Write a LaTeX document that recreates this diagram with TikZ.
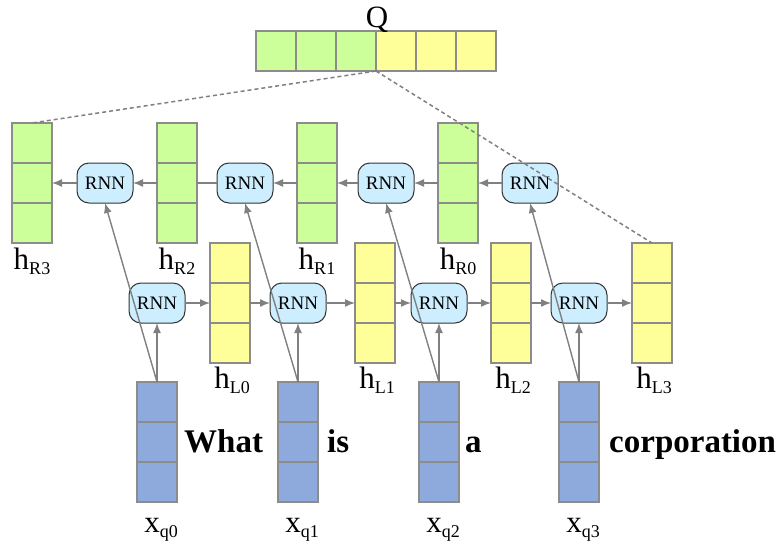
\documentclass[tikz,border=0pt]{standalone}
\usepackage{fontspec}
\setmainfont{Liberation Serif}[BoldFont={Liberation Serif Bold}]
\newfontfamily\wordfont{Liberation Serif Bold}
\usetikzlibrary{arrows.meta}
\definecolor{gfill}{HTML}{CCFF99}
\definecolor{yfill}{HTML}{FFFF99}
\definecolor{bfill}{HTML}{8EAADC}
\definecolor{rfill}{HTML}{CCEEFF}
\definecolor{boxgray}{HTML}{8C8C8C}
\definecolor{conngray}{HTML}{808080}
\newcommand\lbl[2]{{\fontsize{31}{31}\selectfont #1}\raisebox{-5pt}{\fontsize{18}{18}\selectfont #2}}
\tikzset{
  vec/.style={draw=boxgray, line width=1.3pt, minimum width=40pt, minimum height=120pt, inner sep=0pt, outer sep=0pt,
    path picture={\draw[boxgray,line width=1.3pt]
      ([yshift=20pt]path picture bounding box.west) -- ([yshift=20pt]path picture bounding box.east)
      ([yshift=-20pt]path picture bounding box.west) -- ([yshift=-20pt]path picture bounding box.east);}},
  qcell/.style={draw=boxgray, line width=1.3pt, minimum width=40pt, minimum height=40pt, inner sep=0pt, outer sep=0pt},
  rnn/.style={draw=black!80, line width=1pt, fill=rfill, rounded corners=12pt, minimum width=56pt, minimum height=40pt,
    inner sep=0pt, outer sep=0pt, font=\fontsize{19}{19}\selectfont},
  conn/.style={draw=conngray, line width=1.4pt},
  arr/.style={conn, -{Latex[length=10pt,width=8pt]}},
  dashconn/.style={draw=conngray, line width=1.5pt, dash pattern=on 4pt off 3pt},
  word/.style={anchor=base west, inner sep=0pt, font=\wordfont\fontsize{33}{33}\selectfont},
  lab/.style={anchor=base, inner sep=0pt},
}
\begin{document}
\begin{tikzpicture}[x=1pt,y=-1pt]
\useasboundingbox (0,0) rectangle (780,544);
% Q bar
\node[qcell, fill=gfill] (q1) at (276,51) {};
\node[qcell, fill=gfill] (q2) at (316,51) {};
\node[qcell, fill=gfill] (q3) at (356,51) {};
\node[qcell, fill=yfill] (q4) at (396,51) {};
\node[qcell, fill=yfill] (q5) at (436,51) {};
\node[qcell, fill=yfill] (q6) at (476,51) {};
\node[lab, font=\fontsize{31}{31}\selectfont] (qlab) at (377,27) {Q};
% right-to-left states
\node[vec, fill=gfill] (hR3) at (32,183) {};
\node[vec, fill=gfill] (hR2) at (177,183) {};
\node[vec, fill=gfill] (hR1) at (317,183) {};
\node[vec, fill=gfill] (hR0) at (458,183) {};
% left-to-right states
\node[vec, fill=yfill] (hL0) at (230,303) {};
\node[vec, fill=yfill] (hL1) at (375,303) {};
\node[vec, fill=yfill] (hL2) at (511,303) {};
\node[vec, fill=yfill] (hL3) at (652,303) {};
% inputs
\node[vec, fill=bfill] (xq0) at (157,442) {};
\node[vec, fill=bfill] (xq1) at (298,442) {};
\node[vec, fill=bfill] (xq2) at (439,442) {};
\node[vec, fill=bfill] (xq3) at (579,442) {};
% RNN cells
\node[rnn] (rt1) at (105,183) {RNN};
\node[rnn] (rt2) at (245,183) {RNN};
\node[rnn] (rt3) at (386,183) {RNN};
\node[rnn] (rt4) at (530,183) {RNN};
\node[rnn] (rb1) at (157,303) {RNN};
\node[rnn] (rb2) at (298,303) {RNN};
\node[rnn] (rb3) at (439,303) {RNN};
\node[rnn] (rb4) at (579,303) {RNN};
% labels
\node[lab] (lR3) at (32,269) {\lbl{h}{R3}};
\node[lab] (lR2) at (177,269) {\lbl{h}{R2}};
\node[lab] (lR1) at (317,269) {\lbl{h}{R1}};
\node[lab] (lR0) at (458,269) {\lbl{h}{R0}};
\node[lab] (lL0) at (232,388) {\lbl{h}{L0}};
\node[lab] (lL1) at (377,388) {\lbl{h}{L1}};
\node[lab] (lL2) at (513,388) {\lbl{h}{L2}};
\node[lab] (lL3) at (654,388) {\lbl{h}{L3}};
\node[lab] (lx0) at (161,532) {\lbl{x}{q0}};
\node[lab] (lx1) at (302,532) {\lbl{x}{q1}};
\node[lab] (lx2) at (443,532) {\lbl{x}{q2}};
\node[lab] (lx3) at (583,532) {\lbl{x}{q3}};
% words
\node[word] (w0) at (184,452) {What};
\node[word] (w1) at (327,452) {is};
\node[word] (w2) at (465,452) {a};
\node[word] (w3) at (609,452) {corporation};
% top row connectors
\draw[arr] (rt4.west) -- (hR0.east);
\draw[arr] (hR0.west) -- (rt3.east);
\draw[arr] (rt3.west) -- (hR1.east);
\draw[arr] (hR1.west) -- (rt2.east);
\draw[conn] (rt2.west) -- (hR2.east);
\draw[arr] (hR2.west) -- (rt1.east);
\draw[arr] (rt1.west) -- (hR3.east);
% bottom row connectors
\draw[arr] (rb1.east) -- (hL0.west);
\draw[arr] (hL0.east) -- (rb2.west);
\draw[arr] (rb2.east) -- (hL1.west);
\draw[arr] (hL1.east) -- (rb3.west);
\draw[arr] (rb3.east) -- (hL2.west);
\draw[arr] (hL2.east) -- (rb4.west);
\draw[arr] (rb4.east) -- (hL3.west);
% inputs to cells
\draw[arr] (xq0.north) -- (rb1.south);
\draw[arr] (xq1.north) -- (rb2.south);
\draw[arr] (xq2.north) -- (rb3.south);
\draw[arr] (xq3.north) -- (rb4.south);
\draw[arr] (xq0.north) -- (rt1.south);
\draw[arr] (xq1.north) -- (rt2.south);
\draw[arr] (xq2.north) -- (rt3.south);
\draw[arr] (xq3.north) -- (rt4.south);
% concatenation into Q
\draw[dashconn] (q3.south east) -- (hR3.north);
\draw[dashconn] (q3.south east) -- (hL3.north);
\end{tikzpicture}
\end{document}
